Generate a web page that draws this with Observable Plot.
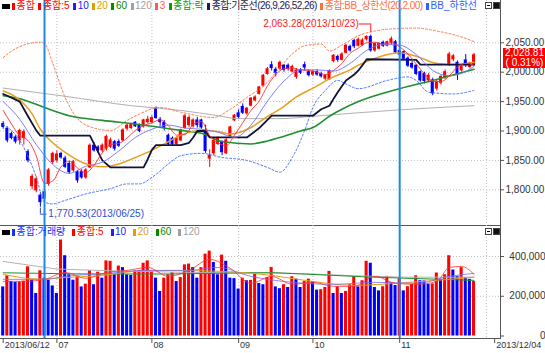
<!DOCTYPE html>
<html><head><meta charset="utf-8">
<script src="https://cdn.jsdelivr.net/npm/d3@7"></script>
<script src="https://cdn.jsdelivr.net/npm/@observablehq/plot@0.6"></script>
<style>
body{margin:0;background:#fff;}
#wrap{position:relative;width:545px;height:353px;overflow:hidden;font-family:"Liberation Sans","Noto Sans CJK KR",sans-serif;background:#fff;}
#pricePanel,#volPanel{position:absolute;left:0;}
#pricePanel{top:0;}#volPanel{top:225px;}
.lg{position:absolute;left:2px;display:flex;align-items:center;height:10px;font-size:10px;line-height:10px;white-space:nowrap;}
.lg .ico{width:8px;height:5px;background:#000;margin-right:2px;}
.lg .it{display:flex;align-items:center;}
.lg .it i{display:inline-block;width:3px;height:7px;margin-right:1px;}
.win{position:absolute;left:485px;display:flex;gap:1px;}
.win span{display:block;width:5px;height:5px;border:1px solid #444;}
.win .b1{background:#fff;position:relative}
.win .b1:after{content:"";position:absolute;left:1px;top:2px;width:3px;height:1px;background:#000}
.win .b2{background:#111;}
#pbox{position:absolute;left:503px;width:43px;height:20px;background:#ff0000;color:#fff;font-size:10px;line-height:10px;text-align:center;}
</style></head>
<body>
<div id="wrap">
  <div id="pricePanel"></div>
  <div id="volPanel"></div>
  <div class="lg" id="lg1" style="top:1px"></div>
  <div class="lg" id="lg2" style="top:227px"></div>
  <div class="win" style="top:2px"><span class="b1"></span><span class="b2"></span></div>
  <div class="win" style="top:228px"><span class="b1"></span><span class="b2"></span></div>
  <div id="pbox"></div>
</div>
<script>
// ---------------- data ----------------
const open = [1912,1904,1895,1889,1884,1888,1864,1806,1799,1790, 1796,1810,1847,1850,1861,1853,1844,1833,1830,1830, 1821,1838,1875,1872,1867,1870,1873,1881,1881,1884, 1904,1905,1914,1909,1908,1915,1915,1938,1919,1914, 1892,1887,1878,1884,1905,1910,1908,1918,1918,1898, 1853,1862,1878,1880,1862,1890,1918,1930,1941,1930, 1943,1952,1963,1977,1997,2012,2004,2006,2011,2011, 2001,1992,2003,2012,2000,1996,2000,1997,1989,1988, 2019,2026,2021,2033,2043,2053,2045,2046,2056,2060, 2037,2040,2050,2045,2050,2051,2036,2034,2023,2014, 2011,2000,1997,1986,1986,1972,1982,1990,2012,2022, 2016,2003,2020,2009,2013];
const high = [1916,1907,1898,1892,1903,1902,1868,1826,1822,1795, 1800,1836,1864,1866,1864,1857,1848,1850,1833,1834, 1836,1878,1880,1875,1878,1893,1888,1884,1885,1904, 1912,1913,1916,1912,1920,1925,1926,1941,1923,1918, 1895,1890,1890,1903,1928,1926,1921,1923,1920,1910, 1868,1886,1890,1883,1887,1908,1928,1936,1946,1940, 1957,1960,1976,1996,2008,2018,2008,2019,2013,2014, 2012,2006,2006,2017,2004,2003,2004,2000,1996,2004, 2030,2029,2033,2047,2046,2056,2058,2057,2062,2063.28, 2050,2050,2053,2053,2060,2054,2038,2036,2026,2018, 2013,2002,2000,1998,1990,1986,1994,2004,2034,2030, 2019,2011,2030,2017,2032];
const low = [1903,1880,1885,1878,1876,1876,1846,1800,1795,1770.53, 1781,1806,1843,1846,1852,1836,1826,1830,1811,1818, 1818,1836,1864,1862,1863,1866,1870,1866,1872,1882, 1900,1902,1906,1897,1905,1912,1912,1920,1908,1900, 1875,1875,1875,1882,1903,1906,1905,1905,1903,1862, 1838,1858,1875,1858,1860,1888,1916,1920,1928,1927, 1941,1950,1961,1975,1995,2002,1992,2003,2000,2002, 1999,1988,1996,2002,1992,1993,1993,1990,1986,1986, 2016,2017,2019,2031,2034,2040,2043,2044,2053,2034, 2034,2038,2042,2043,2046,2031,2027,2020,2008,2005, 1994,1983,1980,1984,1960,1968,1978,1988,2010,2018, 1986,2000,2008,2006,2010];
const close = [1907,1884,1888,1882,1900,1898,1850,1822,1818,1779, 1785,1833,1861,1860,1855,1839,1830,1847,1816,1821, 1833,1875,1867,1867,1875,1890,1884,1870,1875,1901, 1909,1910,1908,1900,1918,1919,1922,1922,1915,1906, 1878,1878,1887,1901,1925,1922,1918,1910,1906,1866, 1858,1883,1887,1864,1884,1906,1926,1924,1931,1938, 1955,1957,1974,1994,2005,2007,1999,2016,2004,2006, 2009,2003,1999,2008,1995,2000,1996,1993,1994,2002, 2028,2021,2030,2045,2037,2044,2055,2054,2060,2037, 2048,2048,2045,2051,2056,2034,2030,2023,2011,2008, 1997,1986,1985,1994,1964,1983,1992,2000,2030,2027, 1997,2009,2012,2015,2028.81];
const lastChangePct = 0.31;
const hiDate = "2013/10/23", lowDate = "2013/06/25";

// indicator lines: [bar index, value]
const ma5 = [[0,1935],[2,1912],[4,1892],[6,1884],[8,1858],[10,1811],[12,1815],[14,1839],[16,1849],[18,1837],[20,1829],[22,1842],[24,1863],[26,1877],[28,1879],[30,1888],[32,1901],[34,1909],[36,1914],[38,1919],[40,1909],[42,1893],[44,1894],[46,1911],[48,1916],[50,1892],[52,1880],[54,1875],[56,1893],[58,1914],[60,1935],[62,1951],[64,1977],[66,1996],[68,2006],[70,2007],[72,2004],[74,2003],[76,2000],[78,1996],[80,2003],[82,2015],[84,2032],[86,2041],[88,2050],[90,2051],[92,2048],[94,2050],[96,2043],[98,2031],[100,2014],[102,1997],[104,1985],[106,1984],[108,1994],[110,2009],[112,2015],[114,2012]];
const ma10 = [[0,1950],[4,1920],[8,1877],[12,1843],[16,1828],[20,1840],[24,1847],[28,1866],[32,1889],[36,1903],[40,1910],[44,1905],[48,1903],[52,1898],[56,1889],[60,1910],[64,1951],[68,1985],[72,2004],[76,2004],[80,2002],[84,2015],[88,2037],[92,2047],[96,2046],[100,2030],[104,2003],[108,1994],[112,2001],[114,2010]];
const ma20 = [[0,1968],[3,1958],[7,1929],[9,1903],[12,1880],[16,1859],[19,1847],[21,1842],[24,1839],[28,1844],[32,1855],[36,1867],[40,1882],[43,1893],[48,1901],[52,1899],[55,1895],[60,1906],[64,1925],[67,1937],[71,1958],[75,1973],[80,1992],[84,2004],[86,2012],[91,2026],[96,2033],[100,2027],[105,2015],[110,2013],[114,2017]];
const ma60 = [[0,1960],[4,1955],[10,1940],[16,1926],[24,1918],[32,1912],[43,1901],[48,1896],[53,1882],[60,1878],[64,1883],[67,1889],[72,1900],[75,1906],[79,1925],[86,1950],[96,1972],[104,1986],[114,2005]];
const ma120 = [[0,1973],[15,1959],[31,1943],[43,1935],[52,1926],[57,1921],[67,1921],[75,1925],[86,1931],[96,1936],[114,1943]];
const baseLine = [[0,1963],[1,1960],[4,1950],[6,1925],[8,1901],[9,1892],[21,1892],[22,1878],[24,1850],[26,1838],[34,1838],[35,1852],[36,1868],[37,1876],[43,1876],[45,1880],[46,1889],[47,1900],[49,1900],[50,1889],[59,1889],[62,1905],[65,1926],[75,1926],[77,1937],[79,1943],[80,1955],[81,1966],[82,1976],[83,1986],[85,1996],[86,2003],[87,2012],[88,2022],[100,2021],[101,2013],[114,2013]];
const bbUpper = [[0,2025],[3,2040],[9,2051],[10,2049],[12,2015],[15,1957],[18,1921],[22,1905],[26,1901],[30,1918],[33,1929],[38,1940],[43,1932],[51,1923],[55,1937],[59,1957],[64,1983],[67,2008],[70,2031],[73,2045],[77,2048],[79,2036],[82,2046],[86,2062],[90,2070],[95,2074],[100,2075],[105,2070],[110,2062],[114,2052]];
const bbLower = [[0,1911],[4,1884],[8,1822],[10,1779],[12,1776],[15,1782],[20,1793],[26,1802],[30,1810],[33,1810],[36,1821],[40,1844],[43,1858],[48,1862],[53,1855],[59,1850],[64,1838],[67,1830],[70,1855],[73,1901],[75,1940],[78,1969],[81,1986],[83,1980],[86,1972],[93,1986],[98,1992],[100,1986],[103,1966],[109,1963],[114,1969]];

const volume = [247,303,274,269,272,276,348,281,214,328, 291,281,252,214,483,404,308,281,298,247, 261,328,258,321,291,378,376,308,352,344, 308,305,328,330,366,378,328,291,224,291, 308,318,274,294,358,362,344,291,344,412, 427,370,308,407,376,291,289,236,291,278, 280,311,264,258,294,345,247,238,258,244, 298,286,244,274,286,274,231,233,244,325, 214,247,214,224,258,298,247,278,376,366, 244,227,248,300,268,254,288,227,248,260, 303,278,277,260,262,317,282,308,404,332, 300,344,293,285,274].map(v => v * 1000);
const volDir = ("BRBBRRRBBR"+"BBBBRBBBRB"+"RRBRBRRBRB"+"BBRRRRRBBR"+"RRBRRRBBRR"+"RBBRBBBBRB"+"RRBBRRBBRB"+"RBBRRBBRRR"+"BRBRRRBRRB"+"BBRRBBRBRR"+"RBBBRRBRRB"+"BRBBR").split("");
const vma5 = [[0,275],[5,275],[10,285],[15,320],[20,290],[25,320],[30,330],[35,345],[40,300],[45,330],[50,385],[55,340],[60,265],[65,300],[70,260],[75,270],[80,250],[85,250],[90,300],[95,265],[100,260],[105,275],[108,345],[111,350],[114,310]];
const vma10 = [[0,285],[10,285],[15,300],[25,315],[35,330],[45,330],[52,345],[60,300],[70,270],[80,260],[90,270],[100,265],[108,300],[114,315]];
const vma20 = [[0,310],[9,286],[15,294],[23,303],[32,325],[40,330],[48,328],[56,322],[65,305],[73,280],[85,255],[97,268],[105,280],[114,296]];
const vma60 = [[0,318],[20,312],[40,312],[60,318],[66,318],[80,305],[87,298],[97,291],[114,280]];
const vma120 = [[0,375],[13,337],[26,328],[40,322],[55,318],[65,318],[75,312],[85,303],[97,296],[114,296]];

const priceTicks = [1800,1850,1900,1950,2000,2050];
const volTicks = [0,200000,400000];
const monthIdx = [13,36,57,75,96,117];
const xLabelIdx = [0,13,36,57,75,96,119];
const xLabels = ["2013/06/12","07","08","09","10","11","2013/12/04"];
const markerIdx = [10,96];

const legend1 = [["종합","#ff0000"],["종합:5","#ff0000"],["10","#2020ff"],["20","#e0a000"],["60","#008a00"],["120","#a0a0a0"],["3","#ff5a5a"],["종합:락","#00a000"],["종합:기준선(26,9,26,52,26)","#1a1a50"],["종합:BB_상한선(20,2.00)","#ff7040"],["BB_하한선","#3060ff"]];
const legend2 = [["종합:거래량","#1030ff"],["종합:5","#ff0000"],["10","#2020ff"],["20","#e0a000"],["60","#008a00"],["120","#a0a0a0"]];

// ---------------- drawing ----------------
const FONT = '"Liberation Sans","Noto Sans CJK KR",sans-serif';
const RED = "#ff0000", BLUE = "#0000ff";
const X = {domain:[0,119], range:[2.7, 2.7 + 4.13*119], axis:null};
const candles = open.map((o,i) => ({i, o, h: high[i], l: low[i], c: close[i]}));
const up = d => d.c >= d.o;
const hiIdx = d3.maxIndex(high), loIdx = d3.minIndex(low);
const hiVal = high[hiIdx], loVal = low[loIdx];
const fmt2 = d3.format(",.2f");
const pt = {x: d => d[0], y: d => d[1]};
const grid = {stroke:"#bdbdbd", strokeOpacity:1, strokeDasharray:"1,2"};

const price = Plot.plot({
  width:545, height:226, marginLeft:0, marginRight:45, marginTop:0, marginBottom:1,
  style:{fontFamily:FONT, fontSize:"10px", background:"transparent", overflow:"visible"},
  x: X,
  y: {domain:[1800,2050], range:[189.3,42.3], axis:null, label:null},
  color: {type:"identity"},
  marks: [
    Plot.gridY(priceTicks, grid),
    Plot.gridX(monthIdx, grid),
    Plot.ruleX(candles, {x:"i", y1:"l", y2:"h", stroke: d => up(d) ? RED : BLUE, strokeWidth:1}),
    Plot.rect(candles, {x1: d => d.i - 0.37, x2: d => d.i + 0.37, y1:"o", y2:"c", fill: d => up(d) ? RED : BLUE, insetTop:-0.5, insetBottom:-0.5}),
    Plot.line(ma120, {...pt, stroke:"#b0b0b0", strokeWidth:1, curve:"monotone-x"}),
    Plot.line(bbUpper, {...pt, stroke:"#ff7a4a", strokeWidth:1, strokeDasharray:"2,2", curve:"monotone-x"}),
    Plot.line(bbLower, {...pt, stroke:"#4a78ff", strokeWidth:1, strokeDasharray:"2,2", curve:"monotone-x"}),
    Plot.line(ma60, {...pt, stroke:"#1f8f2f", strokeWidth:1.6, curve:"monotone-x"}),
    Plot.line(ma20, {...pt, stroke:"#e6a01e", strokeWidth:1.5, curve:"monotone-x"}),
    Plot.line(baseLine, {...pt, stroke:"#12123a", strokeWidth:1.8}),
    Plot.line(ma10, {...pt, stroke:"#7070ff", strokeWidth:0.9, curve:"monotone-x"}),
    Plot.line(ma5, {...pt, stroke:"#ff3030", strokeWidth:0.9, curve:"monotone-x"}),
    // extreme annotations
    Plot.text([hiVal], {x: hiIdx, y: d => d, text: d => fmt2(d) + "(" + hiDate + ")", textAnchor:"end", dx:-12, dy:-11, fill:"#ff1a1a", fontSize:10}),
    Plot.ruleY([hiVal], {x1: hiIdx - 2.8, x2: hiIdx, dy:-11, stroke:"#ff1a1a"}),
    Plot.ruleX([hiIdx], {y1: hiVal + 4, y2: hiVal + 19, stroke:"#ff1a1a"}),
    Plot.text([loVal], {x: loIdx, y: d => d, text: d => fmt2(d) + "(" + lowDate + ")", textAnchor:"start", dx:8, dy:7, fill:"#2d4fd6", fontSize:10}),
    Plot.ruleX([loIdx], {y1: loVal - 1.5, y2: loVal - 11.5, stroke:"#2d4fd6"}),
    Plot.ruleY([loVal], {x1: loIdx, x2: loIdx + 1.6, dy:7, stroke:"#2d4fd6"}),
    Plot.ruleX(markerIdx, {stroke:"#1e88f0", strokeWidth:2}),
    Plot.axisY(priceTicks, {anchor:"right", label:null, tickSize:3, tickPadding:2, tickFormat:fmt2, fontSize:10, fill:"#333", stroke:"#555"}),
    Plot.frame({anchor:"right", stroke:"#555"}),
    Plot.frame({anchor:"bottom", stroke:"#555"})
  ]
});
document.getElementById("pricePanel").appendChild(price);

const vData = volume.map((v,i) => ({i, v, up: volDir[i] === "R"}));
const kpt = {x: d => d[0], y: d => d[1] * 1000};
const vol = Plot.plot({
  width:545, height:128, marginLeft:0, marginRight:45, marginTop:0, marginBottom:15,
  style:{fontFamily:FONT, fontSize:"10px", background:"transparent", overflow:"visible"},
  x: X,
  y: {domain:[0,400000], range:[110.5,31], axis:null, label:null},
  color: {type:"identity"},
  marks: [
    Plot.gridY([200000,400000], grid),
    Plot.gridX(monthIdx, grid),
    Plot.rect(vData, {x1: d => d.i - 0.37, x2: d => d.i + 0.37, y1: 0, y2: "v", fill: d => d.up ? RED : BLUE}),
    Plot.line(vma120, {...kpt, stroke:"#b4b4b4", strokeWidth:1}),
    Plot.line(vma60, {...kpt, stroke:"#1f8f2f", strokeWidth:1}),
    Plot.line(vma20, {...kpt, stroke:"#e6a01e", strokeWidth:1, curve:"monotone-x"}),
    Plot.line(vma10, {...kpt, stroke:"#7070ff", strokeWidth:0.8, curve:"monotone-x"}),
    Plot.line(vma5, {...kpt, stroke:"#ff3030", strokeWidth:0.8, curve:"monotone-x"}),
    Plot.ruleX(markerIdx, {stroke:"#1e88f0", strokeWidth:2}),
    Plot.axisY(volTicks, {anchor:"right", label:null, tickSize:3, tickFormat: () => "", stroke:"#555"}),
    Plot.text(volTicks, {y: d => d, frameAnchor:"right", dx:45, textAnchor:"end", text: d3.format(","), fill:"#333", fontSize:10}),
    Plot.axisX(xLabelIdx, {anchor:"bottom", label:null, tickSize:5, tickFormat: () => "", stroke:"#555"}),
    Plot.text(xLabelIdx, {x: d => d, frameAnchor:"bottom", dy:9, dx:1.5, textAnchor:"start", text: (d,i) => xLabels[i], fill:"#333", fontSize:9}),
    Plot.frame({anchor:"right", stroke:"#555"}),
    Plot.frame({anchor:"bottom", stroke:"#555"})
  ]
});
document.getElementById("volPanel").appendChild(vol);

// legends
function buildLegend(el, items, gap) {
  const ico = document.createElement("span"); ico.className = "ico"; el.appendChild(ico);
  items.forEach(([label, color]) => {
    const s = document.createElement("span"); s.className = "it"; s.style.color = color; s.style.marginRight = gap + "px";
    if (label.length > 8) s.style.letterSpacing = "-0.55px";
    const m = document.createElement("i"); m.style.background = color; m.style.marginRight = "1.5px"; s.appendChild(m);
    s.appendChild(document.createTextNode(label)); el.appendChild(s);
  });
}
buildLegend(document.getElementById("lg1"), legend1, 3.5);
buildLegend(document.getElementById("lg2"), legend2, 7);

// last price box
const lastClose = close[close.length - 1];
const yc = price.scale("y").apply(lastClose);
const box = document.getElementById("pbox");
box.style.top = (yc - 7) + "px";
box.innerHTML = fmt2(lastClose) + "<br>( " + lastChangePct.toFixed(2) + "%)";
</script>
</body></html>
